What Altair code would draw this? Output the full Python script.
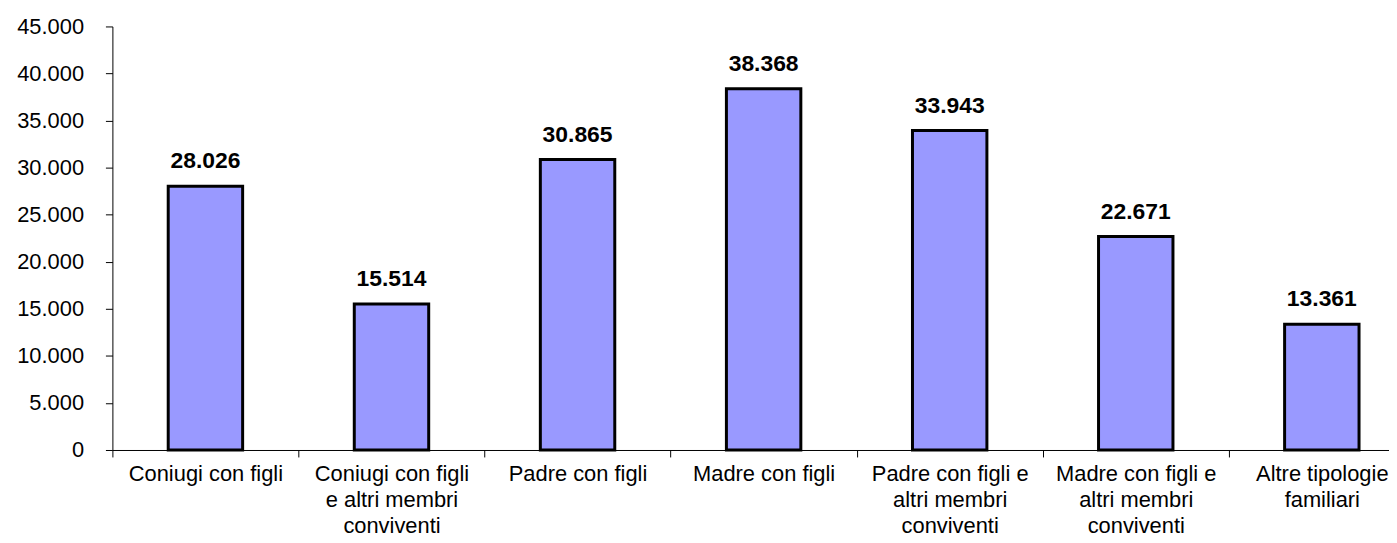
import altair as alt
import pandas as pd

categories = [
    "Coniugi con figli",
    "Coniugi con figli|e altri membri|conviventi",
    "Padre con figli",
    "Madre con figli",
    "Padre con figli e|altri membri|conviventi",
    "Madre con figli e|altri membri|conviventi",
    "Altre tipologie|familiari",
]
values = [28026, 15514, 30865, 38368, 33943, 22671, 13361]
y_ticks = [0, 5000, 10000, 15000, 20000, 25000, 30000, 35000, 40000, 45000]

df = pd.DataFrame({"cat": categories, "val": values})

FONT = "Liberation Sans"

x_enc = alt.X(
    "cat:N",
    sort=categories,
    title=None,
    scale=alt.Scale(range=[0, 1310], paddingInner=0, paddingOuter=0),
    axis=alt.Axis(
        labelExpr="split(datum.label, '|')",
        labelAngle=0,
        labelFont=FONT,
        labelFontSize=22,
        labelLineHeight=26,
        labelColor="black",
        labelPadding=7,
        labelLimit=400,
        labelOverlap=False,
        labelFlush=False,
        tickBand="extent",
        tickSize=7,
        tickColor="black",
        domainColor="black",
        domainWidth=1,
        tickWidth=1,
        grid=False,
    ),
)

y_enc = alt.Y(
    "val:Q",
    title=None,
    scale=alt.Scale(domain=[0, 45000], nice=False),
    axis=alt.Axis(
        values=y_ticks,
        labelExpr="replace(format(datum.value, ','), ',', '.')",
        labelFont=FONT,
        labelFontSize=22,
        labelColor="black",
        labelPadding=22,
        tickSize=7,
        tickColor="black",
        domainColor="black",
        domainWidth=1,
        tickWidth=1,
        grid=False,
    ),
)

base = alt.Chart(df).encode(x=x_enc, y=y_enc)

bars = base.mark_bar(
    width=alt.RelativeBandSize(0.4),
    fill="#9999FF",
    stroke="black",
    strokeWidth=3,
)

labels = base.transform_calculate(
    lbl="replace(format(datum.val, ','), ',', '.')"
).mark_text(
    font=FONT,
    fontSize=23,
    fontWeight="bold",
    color="black",
    baseline="alphabetic",
    dy=-18,
).encode(text="lbl:N")

chart = (
    alt.layer(bars, labels)
    .properties(
        width=1284,
        height=426,
        autosize=alt.AutoSizeParams(type="none"),
        padding={"left": 105, "top": 17, "right": 0, "bottom": 92},
    )
    .configure_view(strokeWidth=0)
)

chart.save("out.html", embed_options={"renderer": "svg", "actions": False})
